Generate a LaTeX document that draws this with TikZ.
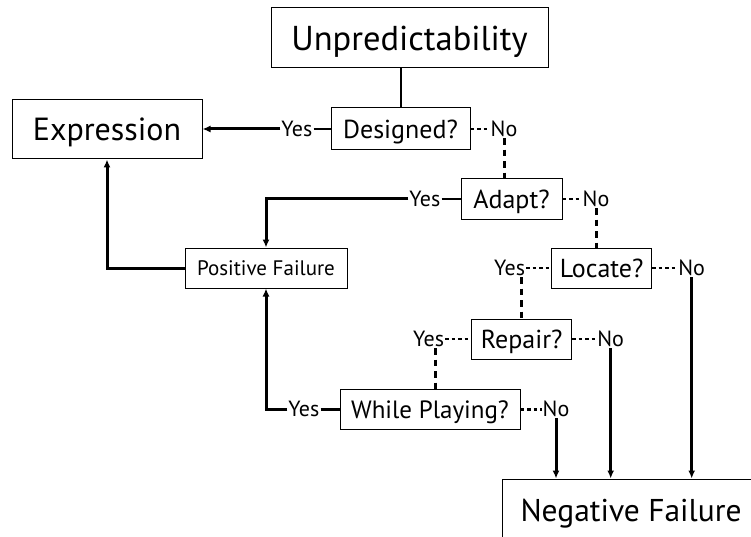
\documentclass[tikz,border=0pt]{standalone}
\usepackage{fontspec}
\setmainfont{PT Sans}
\usetikzlibrary{arrows.meta, positioning}
\tikzstyle{box}=[draw, line width=1pt, inner sep=0pt, text depth=0pt, anchor=center]
\tikzstyle{bigbox}=[box, font=\fontsize{32}{38}\selectfont]
\tikzstyle{qbox}=[box, minimum height=40pt, font=\fontsize{26}{30}\selectfont]
\tikzstyle{answer}=[inner sep=1pt, font=\fontsize{22}{26}\selectfont]
\tikzstyle{flow}=[line width=3pt, -{Latex[length=8pt,width=7pt]}]
\tikzstyle{tick}=[line width=2.8pt]
\tikzstyle{dots}=[line width=2.8pt, dash pattern=on 3.5pt off 3pt]
\tikzstyle{dashes}=[line width=3pt, dash pattern=on 6.5pt off 5pt]

\begin{document}
\begin{tikzpicture}[x=1pt, y=-1pt]
  \useasboundingbox (0,0) rectangle (751,537);
  \clip (0,0) rectangle (751,537);
  % outcome boxes
  \node[bigbox, minimum width=277pt, minimum height=60pt, font=\fontsize{34.5}{40}\selectfont] (unpred) at (409.5,38) {Unpredictability};
  \node[bigbox, minimum width=190pt, minimum height=59pt] (expr) at (107,129.5) {Expression};
  \node[box, minimum width=162pt, minimum height=40pt, font=\fontsize{21}{25}\selectfont] (posfail) at (266,268) {Positive Failure};
  \node[bigbox, minimum width=258pt, minimum height=62pt, font=\fontsize{31.5}{38}\selectfont] (negfail) at (631,510) {Negative Failure};
  % questions
  \node[qbox, minimum width=139pt, minimum height=42pt] (designed) at (400.5,129) {Designed?};
  \node[qbox, minimum width=101pt] (adapt) at (511.5,199) {Adapt?};
  \node[qbox, minimum width=100pt] (locate) at (601.7,268) {Locate?};
  \node[qbox, minimum width=100pt] (repair) at (521.7,339) {Repair?};
  \node[qbox, minimum width=180pt, font=\fontsize{25}{30}\selectfont] (playing) at (430,409.3) {While Playing?};
  % answers
  \node[answer] (yes1) [left=17pt of designed] {Yes};
  \node[answer] (no1) [right=19pt of designed] {No};
  \node[answer] (yes2) [left=19pt of adapt] {Yes};
  \node[answer] (no2) [right=19pt of adapt] {No};
  \node[answer] (yes3) [left=25pt of locate] {Yes};
  \node[answer] (no3) [right=25pt of locate] {No};
  \node[answer] (yes4) [left=26pt of repair] {Yes};
  \node[answer] (no4) [right=24pt of repair] {No};
  \node[answer] (yes5) [left=19pt of playing] {Yes};
  \node[answer] (no5) [right=21pt of playing] {No};

  \draw[tick, line width=2pt] (unpred.south -| designed.north) -- (designed.north);
  \draw[tick] (yes1) -- (designed);
  \draw[flow] (yes1.west) -- (expr.east |- yes1.west);
  \draw[dots] (designed) -- (no1);
  \draw[dashes] (no1.south) -- (no1.south |- adapt.north);

  \draw[tick] (yes2) -- (adapt);
  \draw[flow] (yes2.west) -| (posfail.north);
  \draw[dots] (adapt) -- (no2);
  \draw[dashes] (no2.south) -- (no2.south |- locate.north);

  \draw[dots] (yes3) -- (locate);
  \draw[dots] (locate) -- (no3);
  \draw[dashes] (yes3.south -| repair.north) -- (repair.north);
  \draw[flow] (no3.south) -- (no3.south |- negfail.north);

  \draw[dots] (yes4) -- (repair);
  \draw[dots] (repair) -- (no4);
  \draw[dashes] ([xshift=7pt]yes4.south) -- ([xshift=7pt]yes4.south |- playing.north);
  \draw[flow] (no4.south) -- (no4.south |- negfail.north);

  \draw[tick] (yes5) -- (playing);
  \draw[flow] (yes5.west) -| (posfail.south);
  \draw[dots] (playing) -- (no5);
  \draw[flow] (no5.south) -- (no5.south |- negfail.north);

  \draw[flow] (posfail.west) -| (expr.south);
\end{tikzpicture}
\end{document}
